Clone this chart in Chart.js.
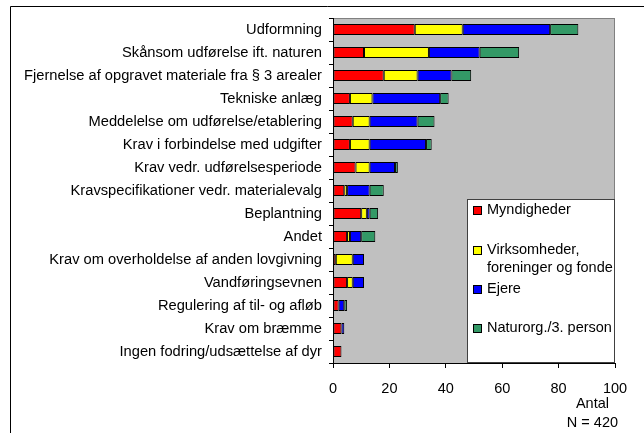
<!DOCTYPE html>
<html><head><meta charset="utf-8">
<script src="https://cdn.jsdelivr.net/npm/chart.js@4/dist/chart.umd.min.js"></script>
<style>html,body{margin:0;padding:0;background:#fff}#wrap{width:644px;height:433px}</style>
</head><body><div id="wrap"><canvas id="c" width="644" height="433"></canvas></div>
<script>
const categories = ["Udformning","Skånsom udførelse ift. naturen","Fjernelse af opgravet materiale fra § 3 arealer","Tekniske anlæg","Meddelelse om udførelse/etablering","Krav i forbindelse med udgifter","Krav vedr. udførelsesperiode","Kravspecifikationer vedr. materialevalg","Beplantning","Andet","Krav om overholdelse af anden lovgivning","Vandføringsevnen","Regulering af til- og afløb","Krav om bræmme","Ingen fodring/udsættelse af dyr"];
const myndigheder  = [29,11,18,6,7,6,8,4,10,5,1,5,2,3,3];
const virksomheder = [17,23,12,8,6,7,5,1,2,1,6,2,0,0,0];
const ejere        = [31,18,12,24,17,20,9,8,1,4,4,4,2,1,0];
const naturorg     = [10,14,7,3,6,2,1,5,3,5,0,0,1,0,0];
const seriesNames = ["Myndigheder","Virksomheder,\nforeninger og fonde","Ejere","Naturorg./3. person"];
const xTicks = [0,20,40,60,80,100];
const axisTitle = ["Antal","N = 420"];

const FONT = "'Liberation Sans', Arial, sans-serif";
const colors = ["#FF0000","#FFFF00","#0000FF","#339966"];
const series = [myndigheder, virksomheder, ejere, naturorg];

const bgPlugin = {
  id:'bg',
  beforeDraw(chart){
    const {ctx, chartArea:a} = chart;
    ctx.save();
    ctx.strokeStyle='#000'; ctx.lineWidth=1;
    ctx.beginPath(); ctx.moveTo(10.5,433); ctx.lineTo(10.5,6.5); ctx.lineTo(644,6.5); ctx.stroke();
    ctx.fillStyle='#C0C0C0';
    ctx.fillRect(a.left,a.top,a.right-a.left,a.bottom-a.top);
    ctx.strokeStyle='#808080';
    ctx.strokeRect(a.left+0.5,a.top+0.5,a.right-a.left-1,a.bottom-a.top);
    ctx.restore();
  },
  afterDraw(chart){
    const {ctx} = chart;
    const xs = chart.scales.x;
    ctx.save();
    const lx = 467, ly = 199, lw = 148, lh = 164;
    ctx.fillStyle='#fff'; ctx.fillRect(lx,ly,lw,lh);
    ctx.strokeStyle='#404040'; ctx.lineWidth=1; ctx.strokeRect(lx+0.5,ly+0.5,lw-1,lh-1);
    ctx.font = "14.5px " + FONT; ctx.textBaseline='middle'; ctx.textAlign='left';
    const ys = [[210],[250,268],[289],[328]];
    chart.data.datasets.forEach((d,i)=>{
      const y0 = ys[i][0];
      ctx.fillStyle=d.backgroundColor; ctx.fillRect(473,y0-4,9,9);
      ctx.strokeStyle='#000'; ctx.strokeRect(473.5,y0-3.5,8,8);
      ctx.fillStyle='#000';
      d.label.split('\n').forEach((t,k)=>ctx.fillText(t,487,ys[i][k]));
    });
    ctx.font = "14.5px " + FONT; ctx.textAlign='center';
    const cx = xs.getPixelForValue(92);
    ctx.fillText(axisTitle[0], cx, 404);
    ctx.fillText(axisTitle[1], cx, 423);
    ctx.restore();
  }
};

new Chart(document.getElementById('c'), {
  type:'bar',
  data:{
    labels:categories,
    datasets: series.map((s,i)=>({
      label:seriesNames[i],
      data:s.map(v=>v===0?null:v),
      backgroundColor:colors[i],
      borderColor:'#000',
      borderWidth:1,
      borderSkipped:false,
      barPercentage:0.47,
      categoryPercentage:1
    }))
  },
  options:{
    indexAxis:'y',
    responsive:false,
    animation:false,
    devicePixelRatio:1,
    layout:{padding:{top:18,right:29,left:0,bottom:0}},
    plugins:{legend:{display:false},tooltip:{enabled:false}},
    scales:{
      x:{
        stacked:true, min:0, max:100,
        afterBuildTicks(s){ s.ticks = xTicks.map(v=>({value:v})); },
        afterFit(s){ s.height = 70; },
        grid:{drawOnChartArea:false, drawTicks:true, tickLength:5, color:'#000'},
        border:{color:'#000', width:1},
        ticks:{color:'#000', font:{family:FONT,size:14.5}, padding:12, maxRotation:0}
      },
      y:{
        stacked:true,
        afterFit(s){ s.width = 333; },
        grid:{drawOnChartArea:false, offset:true, drawTicks:true, tickLength:4, color:'#000'},
        border:{color:'#000', width:1},
        ticks:{color:'#000', font:{family:FONT,size:14.7}, padding:7, autoSkip:false}
      }
    }
  },
  plugins:[bgPlugin]
});
</script></body></html>
